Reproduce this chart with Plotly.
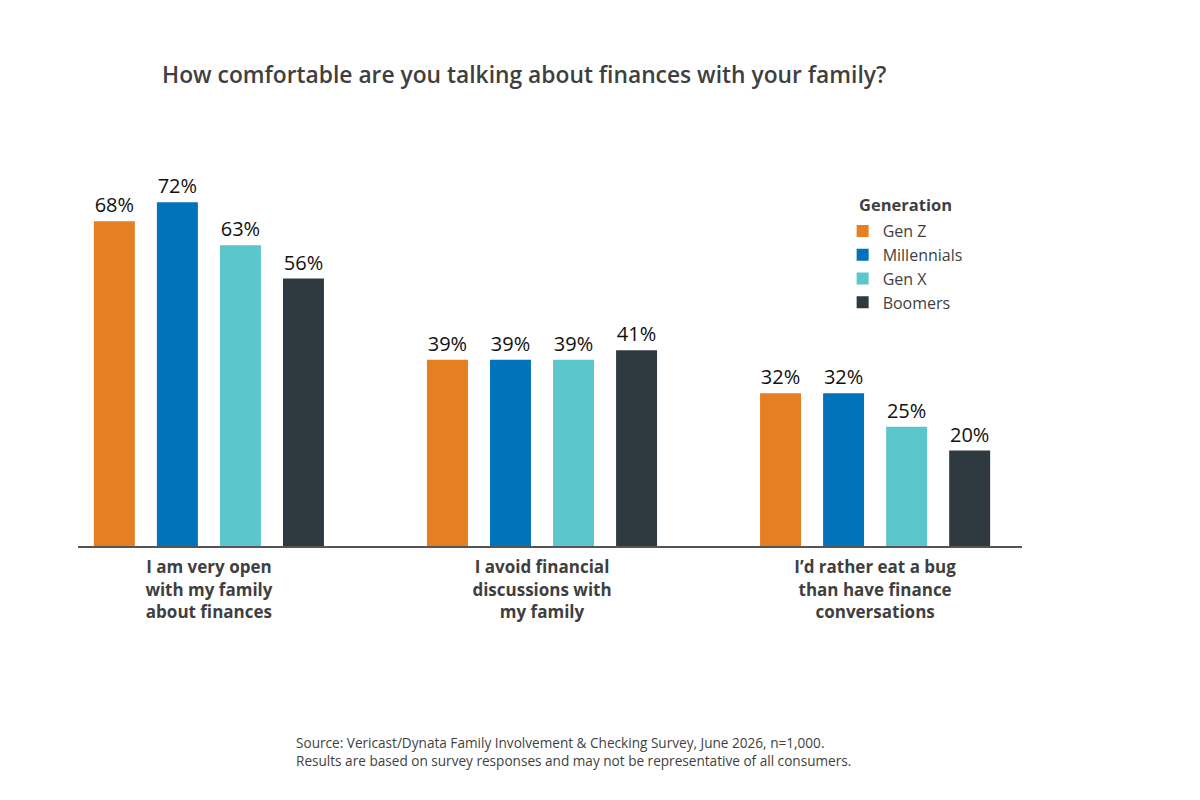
import plotly.graph_objects as go

categories = [
    "I am very open<br>with my family<br>about finances",
    "I avoid financial<br>discussions with<br>my family",
    "I\u2019d rather eat a bug<br>than have finance<br>conversations",
]
series_names = ["Gen Z", "Millennials", "Gen X", "Boomers"]
gen_z = [68, 39, 32]
millennials = [72, 39, 32]
gen_x = [63, 39, 25]
boomers = [56, 41, 20]
colors = ["#E67E22", "#0073BA", "#5BC6CB", "#2F3940"]

FONT = "Open Sans, Lato, sans-serif"
TXT = "#3f3f3f"
values = [gen_z, millennials, gen_x, boomers]
x_idx = [0, 1, 2]

fig = go.Figure()
for name, vals, col in zip(series_names, values, colors):
    fig.add_trace(go.Bar(
        name=name, x=x_idx, y=vals, marker_color=col, marker_line_width=0,
        text=[f"{v}%" for v in vals], textposition="outside",
        textfont=dict(size=20, color="#111111", family=FONT),
        cliponaxis=False, hoverinfo="skip",
    ))

fig.update_layout(
    width=1200, height=800,
    paper_bgcolor="white", plot_bgcolor="white",
    barmode="group", bargap=0.243, bargroupgap=0.35,
    margin=dict(l=78, r=178, t=164, b=254),
    font=dict(family=FONT, color=TXT),
    title=dict(text="How comfortable are you talking about finances with your family?",
               x=162/1200, xanchor="left", xref="container",
               y=1-75/800, yanchor="middle", yref="container",
               font=dict(size=22.8, color=TXT, family=FONT, weight=600)),
    legend=dict(font=dict(size=16, color=TXT), tracegroupgap=0,
                x=0.810, xanchor="left", y=(546-214)/382, yanchor="top",
                bgcolor="rgba(0,0,0,0)", itemclick=False),
    xaxis=dict(range=[-0.393, 2.441], tickmode="array", tickvals=x_idx,
               ticktext=[f"<b>{c}</b>" for c in categories],
               tickfont=dict(size=17, color=TXT, family=FONT),
               ticklabelstandoff=5,
               showline=True, linecolor="#555555", linewidth=2,
               ticks="", showgrid=False, zeroline=False, fixedrange=True),
    yaxis=dict(range=[0, 80], visible=False, showgrid=False, zeroline=False, fixedrange=True),
    annotations=[
        dict(text="<b>Generation</b>", xref="paper", yref="paper",
             x=(857-78)/944, y=(546-204)/382, xanchor="left", yanchor="middle",
             showarrow=False, font=dict(size=16.5, color=TXT, family=FONT)),
        dict(text="Source: Vericast/Dynata Family Involvement &amp; Checking Survey, June 2026, n=1,000.<br>"
                  "Results are based on survey responses and may not be representative of all consumers.",
             xref="paper", yref="paper", x=(573-78)/944, y=(546-751)/382,
             xanchor="center", yanchor="middle", showarrow=False, align="left",
             font=dict(size=13.6, color=TXT, family=FONT)),
    ],
)

fig.write_html("out.html", config={"displayModeBar": False},
               post_script="document.body.style.margin='0';")
